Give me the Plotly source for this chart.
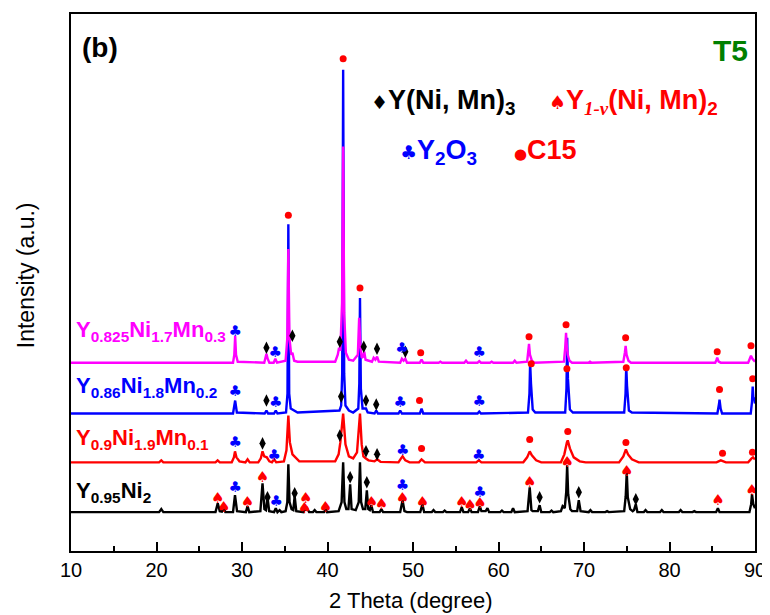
import plotly.graph_objects as go

# ---------------- data (2theta in degrees, intensity in a.u. above each baseline) -------------
offsets = {"black": 39, "red": 89, "blue": 138, "magenta": 189}

black_pts = [(10,0),(20.3,0),(20.56,3),(20.8,0),
 (26.9,0),(27.16,9),(27.4,1),(27.65,0.5),(27.86,4),(28.05,0),
 (28.95,0),(29.18,17),(29.42,1),
 (30.45,0),(30.65,6),(30.85,0),
 (32.15,1),(32.40,29),(32.62,3),(32.8,2),(32.98,15),(33.18,1),
 (33.75,0),(33.95,4),(34.15,0),(34.4,2),(34.6,0),
 (35.1,1),(35.3,10),(35.42,48),(35.56,10),(35.8,3),(36.0,2),(36.16,16),(36.35,1),
 (37.2,0),(37.4,5),(37.5,3),(37.62,4),(37.85,0),
 (38.3,0),(38.5,2),(38.7,0),
 (39.6,0),(39.77,3),(39.95,0),
 (41.3,1),(41.65,10),(41.83,50),(41.98,10),(42.2,3),(42.45,3),(42.65,28),(42.82,3),(43.3,2),
 (43.65,10),(43.8,50),(43.93,10),(44.15,3),(44.42,3),(44.6,22),(44.77,3),(44.95,2),(45.13,7),(45.32,0),
 (46.1,0),(46.3,3),(46.5,0),
 (48.5,0),(48.78,12),(49.0,1),(49.3,0),
 (50.85,0),(51.1,8),(51.3,0),
 (52.2,0),(52.4,2),(52.6,0),
 (53.5,0),(53.7,1.5),(53.9,0),
 (55.5,0),(55.7,5),(55.9,0),(56.45,0),(56.66,4),(56.85,0),
 (57.6,0),(57.82,6),(58.0,1),(58.5,1),(58.71,4),(58.9,0),
 (60.2,0),(60.4,1.5),(60.6,0),
 (61.5,0),(61.7,4),(61.9,0),
 (63.4,1),(63.65,25),(63.85,2),(64.0,1),(64.6,1),(64.81,7),(65.0,0),
 (66.0,0),(66.2,1.5),(66.4,0),
 (67.3,1),(67.5,6),(67.75,4),(67.92,20),(68.03,47),(68.15,18),(68.4,3),(68.6,1),
 (69.2,1),(69.39,12),(69.6,1),
 (70.55,0),(70.75,2),(70.95,0),
 (72.5,0),(72.7,1),(72.9,0),
 (74.7,1),(74.88,16),(75.0,40),(75.12,15),(75.4,3),(75.7,1),(75.85,2),(76.06,8),(76.25,0),
 (77.0,0),(77.2,2),(77.4,0),
 (78.9,0),(79.1,2),(79.3,0),
 (81.1,0),(81.3,2),(81.5,0),
 (82.7,0),(82.9,1),(83.1,0),
 (85.45,0),(85.66,4),(85.85,0),
 (89.35,0),(89.55,8),(89.65,18),(89.8,8),(90,4)]

red_pts = [(10,0),(20.3,0),(20.56,2),(20.8,0),
 (26.9,0),(27.15,2),(27.4,0),
 (28.8,0),(29.05,5),(29.18,11),(29.35,5),(29.7,1),
 (30.4,0),(30.65,3),(30.9,0),
 (31.9,0),(32.2,4),(32.4,11),(32.6,6),(32.9,5),(33.2,1),
 (33.5,0),(33.76,3),(34.0,0),
 (34.9,1),(35.2,12),(35.42,47),(35.6,20),(35.9,8),(36.3,4),(36.7,1),(37.4,1),
 (40.9,1),(41.3,8),(41.5,20),(41.83,49),(42.1,18),(42.5,6),(43.0,4),(43.45,10),(43.8,49),
 (44.0,18),(44.2,6),(44.45,4),(44.8,2),(45.5,1),(45.8,3),(46.2,0.5),
 (48.3,0),(48.6,4),(48.78,6),(49.1,2),(49.6,0),
 (50.7,0),(51.0,3),(51.4,0),
 (57.4,0),(57.7,2),(58.0,0),
 (62.9,0),(63.35,5),(63.65,11),(63.9,7),(64.4,2),(65.0,0),
 (67.3,0),(67.7,8),(68.0,20),(68.1,22),(68.35,14),(68.8,5),(69.5,1),(70.2,0),
 (74.1,0),(74.6,6),(74.9,13),(75.15,8),(75.6,3),(76.4,0),
 (85.5,0),(86.0,2),(86.6,0),
 (89.2,0),(89.6,4),(89.77,5),(90,3)]

blue_pts = [(10,0),
 (28.95,0),(29.2,13),(29.4,1),
 (32.65,0),(32.86,3),(33.05,0),
 (33.75,0),(33.95,3),(34.15,0),
 (35.15,1),(35.32,20),(35.42,190),(35.52,20),(35.7,5),(36.1,3),(36.5,1),
 (41.4,3),(41.6,8),(41.72,40),(41.83,345),(41.95,40),(42.1,8),(42.5,3),(43.0,1),
 (43.6,5),(43.72,30),(43.8,116),(43.9,25),(44.1,5),(44.5,5),(44.7,1),
 (45.5,0),(45.7,3),(45.9,0),
 (48.3,0),(48.5,3),(48.7,0),
 (50.8,0),(51.0,5),(51.2,0),
 (57.55,0),(57.75,2),(57.95,0),
 (63.45,1),(63.62,20),(63.7,51),(63.8,30),(63.87,22),(64.0,4),(64.3,1),
 (67.8,1),(67.95,25),(68.03,76),(68.12,35),(68.2,25),(68.35,4),(68.7,1),
 (74.7,1),(74.86,20),(74.94,48),(75.03,28),(75.1,18),(75.25,3),(75.6,1),
 (85.6,0),(85.8,10),(85.85,14),(85.98,5),(86.15,0),
 (89.5,0),(89.65,12),(89.73,27),(89.82,14),(89.9,16),(90,10)]

magenta_pts = [(10,0),
 (28.95,0),(29.1,8),(29.2,27),(29.3,8),(29.5,1),
 (32.6,0),(32.8,6),(32.86,9),(33.0,4),(33.2,0),
 (33.7,0),(33.9,4),(34.1,0),
 (35.1,2),(35.3,25),(35.42,114),(35.55,25),(35.75,8),(35.9,10),(36.1,2),(36.5,1),
 (40.9,1),(41.2,8),(41.35,15),(41.5,12),(41.7,60),(41.83,217),(41.95,50),(42.15,10),(42.5,3),(43.0,2),
 (43.55,8),(43.7,45),(43.85,16),(44.0,5),(44.15,6),(44.3,11),(44.45,3),
 (45.2,1),(45.4,5),(45.6,3),(45.8,6),(46.0,1),
 (48.5,0),(48.7,4),(48.9,2),(49.1,4),(49.3,0),
 (50.8,0),(51.0,3),(51.2,0),
 (53.0,0),(53.2,1),(53.4,0),
 (56.0,0),(56.2,2),(56.4,0),
 (57.55,0),(57.75,1.5),(57.95,0),
 (59.0,0),(59.2,1),(59.4,0),
 (61.7,0),(61.9,2),(62.1,0),
 (63.35,1),(63.5,10),(63.57,19),(63.68,8),(63.9,2),(64.2,0),
 (67.65,1),(67.8,15),(67.9,30),(68.0,15),(68.1,8),(68.3,2),(68.6,0),
 (70.5,0),(70.7,1),(70.9,0),
 (74.6,1),(74.78,10),(74.87,17),(74.98,8),(75.2,2),(75.5,0),
 (85.35,0),(85.5,3),(85.58,5),(85.75,1),(86.0,0),
 (89.2,0),(89.4,4),(89.53,7),(89.7,4),(89.85,2),(90,1)]

# phase markers: (2theta, stacked intensity)
diamond_pts = [(32.86,204),(35.89,216),(41.44,210),(44.24,205),(45.79,203),(49.1,200),
               (32.86,151),(41.6,155),(44.5,151),(45.7,147),
               (32.4,108),(41.44,116),(44.5,100),(45.8,97),
               (32.98,54),(36.16,58),(42.65,74),(44.6,69),(64.81,54),(69.39,59),(76.06,52)]
spade_pts = [(27.16,52),(27.86,43),(30.65,48),(32.4,73),(37.3,42),(37.44,52),(39.77,43),
             (45.13,48),(46.3,46),(48.78,52),(51.1,48),(55.7,48),(56.66,45),(57.82,47),
             (63.65,68),(68.03,88),(75.0,79),(85.66,50),(89.65,60)]
club_pts = [(29.2,220),(33.9,198),(48.7,203),(57.75,198),
            (29.2,159),(33.95,148),(48.5,148),(57.75,149),
            (29.2,108),(33.76,95),(48.8,100),(57.7,95),
            (29.2,63),(34.0,49),(48.78,65),(57.82,58)]
dot_pts = [(35.42,337),(41.83,494),(43.8,264),
           (50.9,199),(63.57,215),(67.9,227),(74.87,214),(85.58,200),(89.53,206),
           (50.76,151),(63.83,188),(68.0,183),(74.94,184),(85.85,162),(89.73,173),
           (51.0,103),(63.65,112),(68.1,120),(74.9,109),(86.2,98),(89.7,99)]

x_ticks = [10, 20, 30, 40, 50, 60, 70, 80, 90]

sample_labels = ["Y<sub>0.825</sub>Ni<sub>1.7</sub>Mn<sub>0.3</sub>",
                 "Y<sub>0.86</sub>Ni<sub>1.8</sub>Mn<sub>0.2</sub>",
                 "Y<sub>0.9</sub>Ni<sub>1.9</sub>Mn<sub>0.1</sub>",
                 "Y<sub>0.95</sub>Ni<sub>2</sub>"]

# ---------------- figure ----------------
OFF = 8                      # page body margin of the html page
W, H = 770 - OFF, 615 - OFF
PLOT_L, PLOT_R, PLOT_T, PLOT_B = 71, 758, 12, 551   # plot area in screenshot pixels
PW, PH = PLOT_R - PLOT_L, PLOT_B - PLOT_T
L, T = PLOT_L - OFF, PLOT_T - OFF
R, B = W - L - PW, H - T - PH

def px(xp):
    return (xp - PLOT_L) / PW

def py(yp):
    return (PLOT_B - yp) / PH

fig = go.Figure()
series = [("black", black_pts, "#000000"), ("red", red_pts, "#ff0000"),
          ("blue", blue_pts, "#0000ff"), ("magenta", magenta_pts, "#ff00ff")]
for name, pts, col in series:
    xs = [p[0] for p in pts]
    ys = [p[1] + offsets[name] for p in pts]
    fig.add_trace(go.Scatter(x=xs, y=ys, mode="lines",
                             line=dict(color=col, width=2.4), showlegend=False, hoverinfo="skip"))

fig.add_trace(go.Scatter(x=[p[0] for p in diamond_pts], y=[p[1] for p in diamond_pts],
                         mode="markers", marker=dict(symbol="diamond-tall", size=9, color="black"),
                         showlegend=False))
fig.add_trace(go.Scatter(x=[p[0] for p in dot_pts], y=[p[1] for p in dot_pts],
                         mode="markers", marker=dict(symbol="circle", size=7, color="#ff0000"),
                         showlegend=False))
fig.add_trace(go.Scatter(x=[p[0] for p in spade_pts], y=[p[1] for p in spade_pts],
                         mode="text", text=["\u2660"] * len(spade_pts),
                         textposition="middle center",
                         textfont=dict(family="DejaVu Sans", size=15, color="#ff0000"),
                         showlegend=False))
fig.add_trace(go.Scatter(x=[p[0] for p in club_pts], y=[p[1] for p in club_pts],
                         mode="text", text=["\u2663"] * len(club_pts),
                         textposition="middle center",
                         textfont=dict(family="DejaVu Sans", size=15, color="#0000ff"),
                         showlegend=False))

bold = "Liberation Sans, Arial, sans-serif"
narrow = "Liberation Sans Narrow, Arial Narrow, Liberation Sans, Arial, sans-serif"
sym = "<span style='font-family:DejaVu Sans;font-size:{}px'>{}</span>"

ann = []
label_y = [330, 386, 439, 492]
label_c = ["#ff00ff", "#0000ff", "#ff0000", "#000000"]
for t, yv, c in zip(sample_labels, label_y, label_c):
    ann.append(dict(text="<b>" + t + "</b>", x=px(74), y=py(yv), xref="paper", yref="paper",
                    xanchor="left", yanchor="middle", showarrow=False,
                    font=dict(family=bold, size=22, color=c)))

ann += [
    dict(text="<b>(b)</b>", x=px(80), y=py(46), xanchor="left", yanchor="middle",
         font=dict(family=bold, size=28, color="black")),
    dict(text="<b>T5</b>", x=px(753), y=py(49), xanchor="right", yanchor="middle",
         font=dict(family=bold, size=30, color="#008000")),
    dict(text=sym.format(19, "\u2666") + "<b>Y(Ni, Mn)<sub>3</sub></b>",
         x=px(370), y=py(100), xanchor="left", yanchor="middle",
         font=dict(family=bold, size=27, color="black")),
    dict(text=sym.format(19, "\u2660") + "<b>Y<sub><i><span style='font-family:Liberation Serif'>1-\u03bd</span></i></sub>(Ni, Mn)<sub>2</sub></b>",
         x=px(549), y=py(100), xanchor="left", yanchor="middle",
         font=dict(family=bold, size=27, color="#ff0000")),
    dict(text=sym.format(19, "\u2663") + "<b>Y<sub>2</sub>O<sub>3</sub></b>",
         x=px(399), y=py(151), xanchor="left", yanchor="middle",
         font=dict(family=bold, size=27, color="#0000ff")),
    dict(text=sym.format(15, "\u25cf") + "<b>C15</b>",
         x=px(514), y=py(149), xanchor="left", yanchor="middle",
         font=dict(family=bold, size=27, color="#ff0000")),
    dict(text="Intensity (a.u.)", x=px(26), y=py(274), xanchor="center", yanchor="middle",
         textangle=-90, font=dict(family="Liberation Sans, Arial", size=23, color="black")),
    dict(text="2 Theta (degree)", x=px(412), y=py(601), xanchor="center", yanchor="middle",
         font=dict(family=narrow, size=22, color="black")),
]
for a in ann[len(sample_labels):]:
    a.setdefault("xref", "paper")
    a.setdefault("yref", "paper")
    a.setdefault("showarrow", False)

fig.update_layout(
    width=W, height=H,
    margin=dict(l=L, r=R, t=T, b=B, pad=0),
    plot_bgcolor="white", paper_bgcolor="white",
    annotations=ann,
    xaxis=dict(range=[10, 90], tickvals=x_ticks, ticktext=[str(v) for v in x_ticks],
               ticks="inside", ticklen=9, tickwidth=1.5, tickcolor="black",
               minor=dict(dtick=5, tick0=10, ticks="inside", ticklen=5, tickwidth=1.5, tickcolor="black"),
               showline=True, linecolor="black", linewidth=2, mirror=True,
               showgrid=False, zeroline=False,
               tickfont=dict(family=narrow, size=20, color="black")),
    yaxis=dict(range=[0, PH], showticklabels=False, ticks="",
               showline=True, linecolor="black", linewidth=2, mirror=True,
               showgrid=False, zeroline=False),
)

fig.write_html("out.html")
